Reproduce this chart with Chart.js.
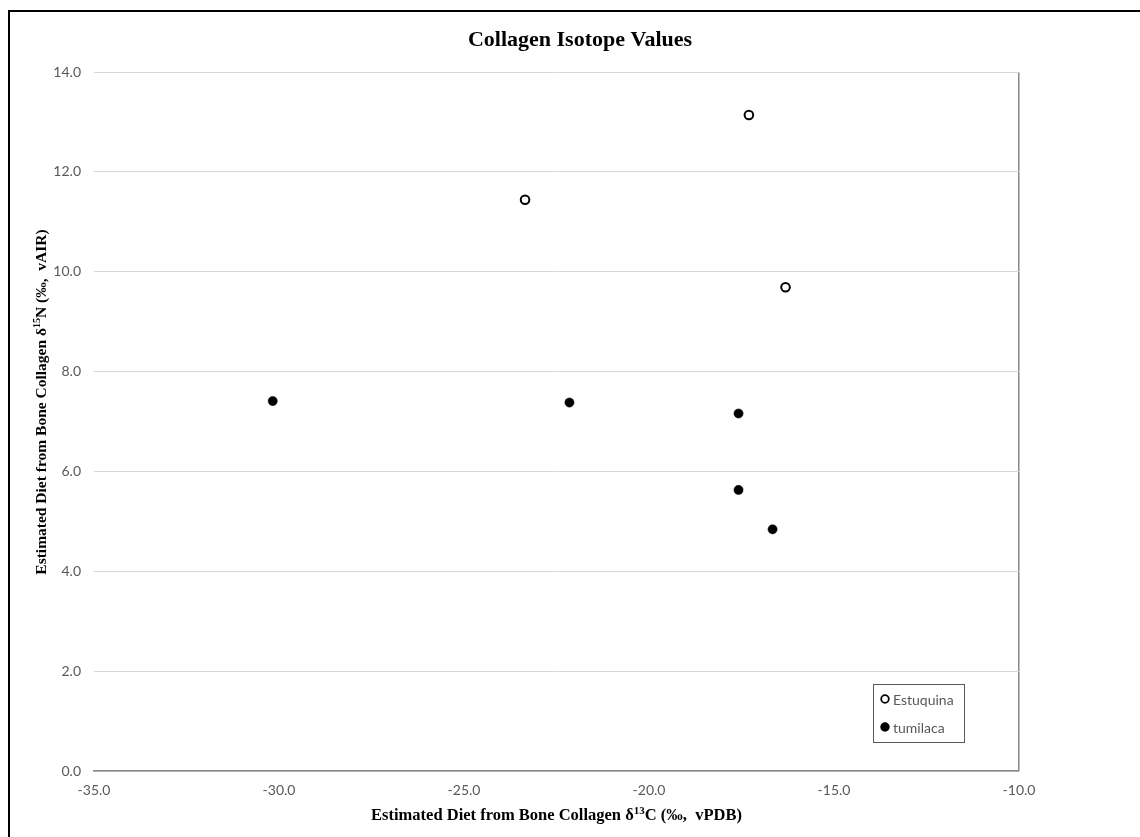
<!DOCTYPE html>
<html>
<head>
<meta charset="utf-8">
<title>Collagen Isotope Values</title>
<script src="https://cdn.jsdelivr.net/npm/chart.js@4.4.1/dist/chart.umd.min.js"></script>
<style>
  html, body { margin: 0; padding: 0; background: #fff; overflow: hidden; }
  #wrap { position: relative; width: 1140px; height: 837px; }
  #frame { position: absolute; left: 8px; top: 10px; width: 1200px; height: 900px;
           border-top: 2px solid #000; border-left: 2px solid #000; pointer-events: none; }
  canvas { position: absolute; left: 0; top: 0; }
</style>
</head>
<body>
<div id="wrap">
  <canvas id="chart" width="1140" height="837"></canvas>
  <div id="frame"></div>
</div>
<script>
// δ13C (x) and δ15N (y) values per group
const estuquinaC = [-17.30, -23.35, -16.31];
const estuquinaN = [13.14, 11.44, 9.69];
const tumilacaC = [-30.17, -22.15, -17.58, -17.58, -16.66];
const tumilacaN = [7.41, 7.38, 7.16, 5.63, 4.84];

const seriesNames = ['Estuquina', 'tumilaca'];
const xTicks = [-35, -30, -25, -20, -15, -10];
const yTicks = [0, 2, 4, 6, 8, 10, 12, 14];

const chartTitle = 'Collagen Isotope Values';
const xTitleParts = [['Estimated Diet from Bone Collagen δ', false], ['13', true], ['C (‰,  vPDB)', false]];
const yTitleParts = [['Estimated Diet from Bone Collagen δ', false], ['15', true], ['N (‰,  vAIR)', false]];

const toPoints = (xs, ys) => xs.map((x, i) => ({ x: x, y: ys[i] }));

const TICK_FONT = { family: 'Lato, "Open Sans", sans-serif', size: 14 };
const TICK_COLOR = '#595959';

// draw a title made of normal and superscript runs, centred on (0,0) of the current transform
function drawRuns(ctx, parts, size) {
  const mainFont = 'bold ' + size + 'px "Liberation Serif", "Times New Roman", serif';
  const supFont = 'bold ' + Math.round(size * 0.65) + 'px "Liberation Serif", "Times New Roman", serif';
  let total = 0;
  const widths = parts.map(([t, sup]) => {
    ctx.font = sup ? supFont : mainFont;
    const w = ctx.measureText(t).width;
    total += w;
    return w;
  });
  let x = -total / 2;
  ctx.textBaseline = 'alphabetic';
  ctx.textAlign = 'left';
  parts.forEach(([t, sup], i) => {
    ctx.font = sup ? supFont : mainFont;
    ctx.fillText(t, x, sup ? -size * 0.38 : 0);
    x += widths[i];
  });
}

const textPlugin = {
  id: 'textPlugin',
  afterDraw(chart) {
    const ctx = chart.ctx;
    const area = chart.chartArea;
    ctx.save();
    ctx.fillStyle = '#000';
    // chart title
    ctx.font = 'bold 22px "Liberation Serif", "Times New Roman", serif';
    ctx.textAlign = 'center';
    ctx.textBaseline = 'alphabetic';
    ctx.fillText(chartTitle, 580, 46);
    // x axis title
    ctx.save();
    ctx.translate((area.left + area.right) / 2, 820);
    drawRuns(ctx, xTitleParts, 16.5);
    ctx.restore();
    // y axis title
    ctx.save();
    ctx.translate(46, 402);
    ctx.rotate(-Math.PI / 2);
    drawRuns(ctx, yTitleParts, 15.5);
    ctx.restore();

    // legend box inside plot area
    const bx = 873, by = 684, bw = 91, bh = 58;
    ctx.fillStyle = '#fff';
    ctx.fillRect(bx, by, bw, bh);
    ctx.strokeStyle = '#595959';
    ctx.lineWidth = 1;
    ctx.strokeRect(bx + 0.5, by + 0.5, bw, bh);
    ctx.font = '14px Lato, "Open Sans", sans-serif';
    ctx.textAlign = 'left';
    ctx.textBaseline = 'middle';
    chart.data.datasets.forEach((ds, i) => {
      const cy = 699 + i * 28;
      ctx.beginPath();
      ctx.arc(885, cy, 3.8, 0, Math.PI * 2);
      ctx.fillStyle = ds.pointBackgroundColor;
      ctx.fill();
      ctx.lineWidth = 1.8;
      ctx.strokeStyle = ds.pointBorderColor;
      ctx.stroke();
      ctx.fillStyle = '#595959';
      ctx.fillText(ds.label, 893, cy + 1);
    });
    ctx.restore();
  }
};

new Chart(document.getElementById('chart'), {
  type: 'scatter',
  data: {
    datasets: [
      {
        label: seriesNames[0],
        data: toPoints(estuquinaC, estuquinaN),
        pointRadius: 4.3,
        pointHoverRadius: 4.3,
        pointBorderWidth: 2,
        pointBackgroundColor: '#ffffff',
        pointBorderColor: '#000000'
      },
      {
        label: seriesNames[1],
        data: toPoints(tumilacaC, tumilacaN),
        pointRadius: 4.6,
        pointHoverRadius: 4.6,
        pointBorderWidth: 0.5,
        pointBackgroundColor: '#000000',
        pointBorderColor: '#000000'
      }
    ]
  },
  options: {
    responsive: false,
    animation: false,
    events: [],
    layout: { padding: { left: 0, right: 121, top: 72, bottom: 0 } },
    plugins: {
      legend: { display: false },
      title: { display: false },
      tooltip: { enabled: false }
    },
    scales: {
      x: {
        type: 'linear',
        min: xTicks[0],
        max: xTicks[xTicks.length - 1],
        afterBuildTicks: s => { s.ticks = xTicks.map(v => ({ value: v })); },
        afterFit: s => { s.height = 66; },
        ticks: {
          padding: 11,
          font: TICK_FONT,
          color: TICK_COLOR,
          callback: v => Number(v).toFixed(1)
        },
        grid: {
          drawTicks: false,
          color: c => (c.tick && c.tick.value === -10 ? '#868686' : 'rgba(0,0,0,0)'),
          lineWidth: 1.5
        },
        border: { display: true, color: '#868686', width: 1.5 }
      },
      y: {
        type: 'linear',
        min: yTicks[0],
        max: yTicks[yTicks.length - 1],
        afterBuildTicks: s => { s.ticks = yTicks.map(v => ({ value: v })); },
        afterFit: s => { s.width = 94; },
        ticks: {
          padding: 13,
          font: TICK_FONT,
          color: TICK_COLOR,
          callback: v => Number(v).toFixed(1)
        },
        grid: {
          drawTicks: false,
          color: '#d9d9d9',
          lineWidth: 1
        },
        border: { display: false }
      }
    }
  },
  plugins: [textPlugin]
});
</script>
</body>
</html>
